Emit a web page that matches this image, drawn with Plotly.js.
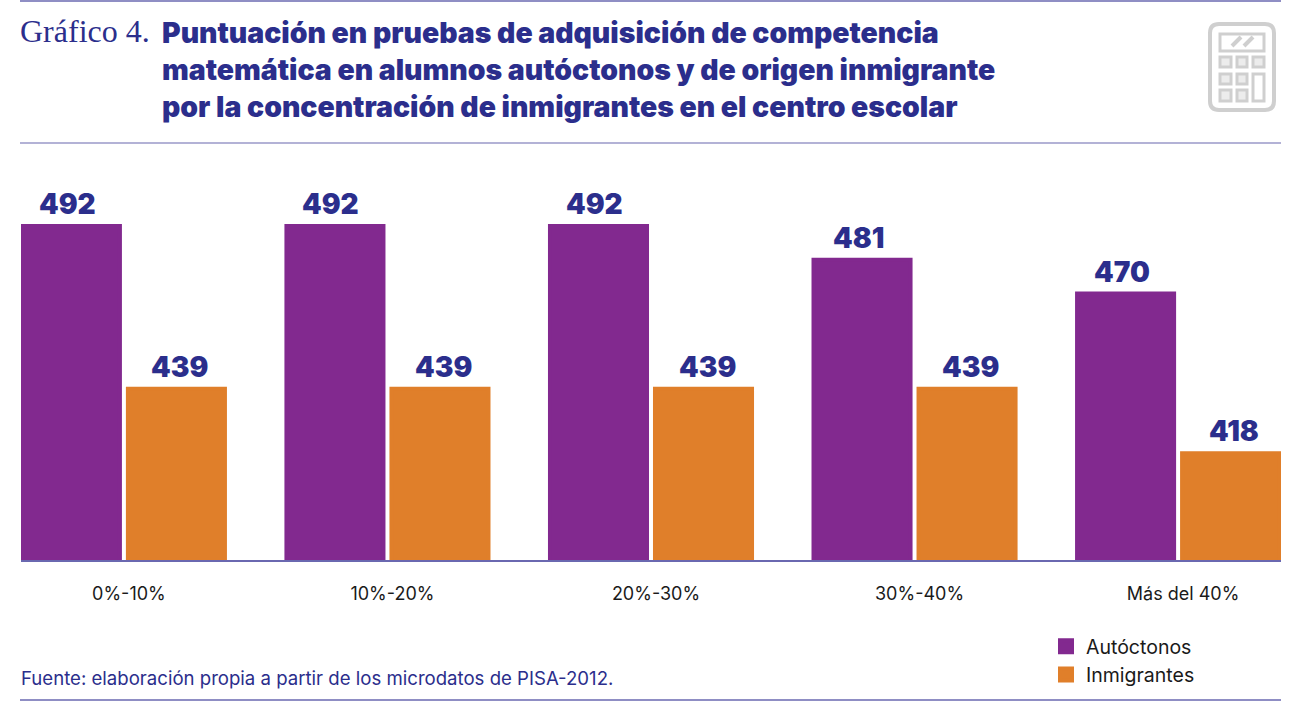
<!DOCTYPE html>
<html>
<head>
<meta charset="utf-8">
<script src="https://cdn.plot.ly/plotly-3.0.1.min.js"></script>
<style>html,body{margin:0;padding:0;background:#fff}</style>
</head>
<body>
<div id="chart" style="width:1313px;height:709px"></div>
<script>
const categories = ['0%-10%', '10%-20%', '20%-30%', '30%-40%', 'Más del 40%'];
const autoctonos = [492, 492, 492, 481, 470];
const inmigrantes = [439, 439, 439, 439, 418];

const PURPLE = '#82298f';
const ORANGE = '#e07f2a';
const NAVY = '#2b2e8c';
const RULE = '#6a68b0';
const ICON = '#cfcfcf';

const W = 1313, H = 709;
const m = { l: 21, r: 32, t: 180, b: 149 };

// pixel position on the page -> paper coordinates (only for page furniture)
const px = x => (x - m.l) / (W - m.l - m.r);
const py = y => (H - m.b - y) / (H - m.t - m.b);

const barTrace = (name, y, color) => ({
    type: 'bar',
    name: name,
    x: categories,
    y: y,
    marker: { color: color, line: { color: color, width: 4 } },
    cliponaxis: false,
    hoverinfo: 'x+y'
});

const data = [
    barTrace('Autóctonos', autoctonos, PURPLE),
    barTrace('Inmigrantes', inmigrantes, ORANGE)
];

const rule = (y, color) => ({
    type: 'line', xref: 'paper', yref: 'paper',
    x0: px(20), x1: px(1281), y0: py(y), y1: py(y),
    line: { color: color, width: 1.5 }
});

const iconBox = (x0, y0, x1, y1) => ({
    type: 'rect', xref: 'paper', yref: 'paper',
    x0: px(x0), x1: px(x1), y0: py(y0), y1: py(y1),
    line: { color: ICON, width: 3 }, fillcolor: '#ececec'
});

const iconLine = (x0, y0, x1, y1) => ({
    type: 'line', xref: 'paper', yref: 'paper',
    x0: px(x0), x1: px(x1), y0: py(y0), y1: py(y1),
    line: { color: ICON, width: 4 }
});

// marco de la calculadora con esquinas redondeadas
const iconFrame = () => {
    const [a, b, c, d, r] = [1210, 24, 1274, 110, 9];
    return {
        type: 'path', xref: 'paper', yref: 'paper',
        path: `M${px(a + r)},${py(b)} L${px(c - r)},${py(b)} Q${px(c)},${py(b)} ${px(c)},${py(b + r)} ` +
              `L${px(c)},${py(d - r)} Q${px(c)},${py(d)} ${px(c - r)},${py(d)} L${px(a + r)},${py(d)} ` +
              `Q${px(a)},${py(d)} ${px(a)},${py(d - r)} L${px(a)},${py(b + r)} Q${px(a)},${py(b)} ${px(a + r)},${py(b)} Z`,
        line: { color: ICON, width: 4 }
    };
};

const iconShapes = [
    iconFrame(),
    { ...iconBox(1220, 34, 1264, 51), fillcolor: '#ffffff' },
    iconLine(1232, 46, 1241, 37), iconLine(1244, 46, 1253, 37),
    iconBox(1220, 57, 1231, 67), iconBox(1237, 57, 1247, 67), iconBox(1253, 57, 1264, 67),
    iconBox(1220, 74, 1231, 84), iconBox(1237, 74, 1247, 84),
    iconBox(1220, 90, 1231, 101), iconBox(1237, 90, 1247, 101),
    { ...iconBox(1253, 74, 1264, 101), fillcolor: '#ffffff' }
];

const valueFont = { family: 'Inter', size: 28, weight: 900, color: NAVY };
const valueLabel = (i, v, shift) => ({
    xref: 'x', yref: 'y', x: i, y: v,
    text: String(v), showarrow: false,
    xanchor: 'center', yanchor: 'middle',
    xshift: shift, yshift: 22,
    font: valueFont
});

const annotations = [
    ...autoctonos.map((v, i) => valueLabel(i, v, -56.5)),
    ...inmigrantes.map((v, i) => valueLabel(i, v, 56)),
    {
        xref: 'paper', yref: 'paper', x: px(18), y: py(31),
        text: 'Gráfico 4.', showarrow: false, xanchor: 'left', yanchor: 'middle',
        font: { family: 'Liberation Serif', size: 32, color: NAVY }
    },
    {
        xref: 'paper', yref: 'paper', x: px(19), y: py(678),
        text: 'Fuente: elaboración propia a partir de los microdatos de PISA-2012.', showarrow: false,
        xanchor: 'left', yanchor: 'middle',
        font: { family: 'Inter', size: 18.6, color: NAVY }
    }
];

const layout = {
    width: W,
    height: H,
    margin: m,
    paper_bgcolor: '#ffffff',
    plot_bgcolor: '#ffffff',
    barmode: 'group',
    bargap: 0.203,
    bargroupgap: 0.076,
    title: {
        text: 'Puntuación en pruebas de adquisición de competencia<br>matemática en alumnos autóctonos y de origen inmigrante<br>por la concentración de inmigrantes en el centro escolar',
        xref: 'container', yref: 'container',
        x: 162 / W, xanchor: 'left',
        y: 1 - 43 / H, yanchor: 'top',
        font: { family: 'Inter', size: 28.4, weight: 900, color: NAVY }
    },
    xaxis: {
        type: 'category',
        range: [-0.3905, 4.3905],
        showgrid: false,
        zeroline: false,
        showline: true,
        linecolor: RULE,
        linewidth: 2,
        layer: 'below traces',
        ticks: '',
        ticklabelstandoff: 16,
        ticklabelshift: 5,
        tickfont: { family: 'Inter', size: 18, color: '#1a1a1a' }
    },
    yaxis: {
        range: [383.2, 507],
        visible: false,
        fixedrange: true
    },
    showlegend: true,
    legend: {
        x: px(1046), y: py(627),
        xanchor: 'left', yanchor: 'top',
        orientation: 'v',
        traceorder: 'normal',
        bgcolor: 'rgba(0,0,0,0)',
        font: { family: 'Inter', size: 19.5, color: '#1a1a1a' }
    },
    shapes: [rule(1, RULE), rule(143, '#9a98c8'), rule(700, RULE), ...iconShapes],
    annotations: annotations
};

Plotly.newPlot('chart', data, layout, { displayModeBar: false });
</script>
</body>
</html>
